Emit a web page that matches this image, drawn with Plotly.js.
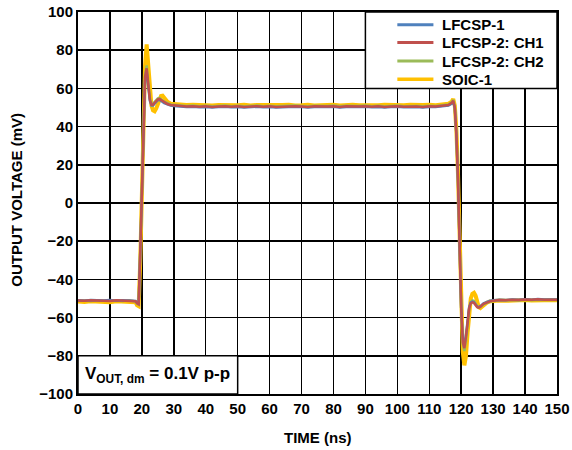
<!DOCTYPE html>
<html>
<head>
<meta charset="utf-8">
<script src="https://cdn.plot.ly/plotly-3.0.1.min.js"></script>
<style>html,body{margin:0;padding:0;background:#fff;}#chart{width:572px;height:450px;}</style>
</head>
<body>
<div id="chart"></div>
<script>
// time axis (ns)
var timeNs = [
  0,2,4,6,8,10,12,14,16,18,
  18.5,19,19.5,20,20.5,21,21.5,22,22.5,23,23.5,24,24.5,25,25.5,26,26.5,27,28,29,30,
  32,34,36,38,40,42,44,46,48,50,
  52,54,56,58,60,62,64,66,68,70,
  72,74,76,78,80,82,84,86,88,90,
  92,94,96,98,100,102,104,106,108,110,
  112,114,116,
  117,117.5,118,118.5,119,119.5,120,120.5,121,121.5,122,122.5,123,123.5,124,124.5,125,125.5,126,127,128,129,130,
  132,134,136,138,140,142,144,146,148,150
];

// output voltage (mV)
var lfcsp1 = [
  -50.9,-51.2,-50.8,-51.0,-51.1,-50.8,-51.2,-50.9,-51.0,-51.3,
  -52.2,-52.6,-26,7,44,64,68.5,61,53.5,51,51,52,53,53.8,54,53.6,52.9,52.3,51.5,51.0,50.8,
  50.5,50.2,50.4,50.1,50.3,50.0,50.2,50.4,50.1,50.3,
  50.0,50.2,50.4,50.1,50.3,50.0,50.2,50.1,50.4,50.2,
  50.0,50.3,50.1,50.2,50.4,50.0,50.3,50.1,50.2,50.4,
  50.1,50.3,50.0,50.2,50.4,50.1,50.3,50.2,50.0,50.3,
  50.2,50.5,51.0,
  52.0,53.0,49.5,35,11,-23,-55,-71,-74,-69,-60,-54.5,-52,-51.6,-52,-53.2,-54.2,-54.5,-54,-52.5,-51.8,-51.2,-50.9,
  -50.6,-50.8,-50.5,-50.7,-50.4,-50.6,-50.3,-50.5,-50.4,-50.5
];
var lfcsp2ch1 = [
  -51.0,-51.2,-50.9,-51.1,-51.0,-51.3,-50.9,-51.1,-51.0,-51.4,
  -52.5,-53,-25,8,45,66,70.5,62,54,51.5,51.5,52.5,53.5,54.3,54.5,54,53.2,52.6,51.8,51.3,51.1,
  50.8,50.5,50.7,50.4,50.6,50.3,50.5,50.7,50.4,50.6,
  50.3,50.5,50.7,50.4,50.6,50.3,50.5,50.4,50.7,50.5,
  50.3,50.6,50.4,50.5,50.7,50.3,50.6,50.4,50.5,50.7,
  50.4,50.6,50.3,50.5,50.7,50.4,50.6,50.5,50.3,50.6,
  50.5,50.8,51.3,
  52.5,53.5,50,36,12,-22,-55,-73,-76,-70,-61,-55,-52.5,-52,-52.3,-53.5,-54.5,-54.8,-54.3,-52.8,-52,-51.5,-51.2,
  -50.8,-50.9,-50.6,-50.8,-50.5,-50.7,-50.4,-50.6,-50.5,-50.6
];
var lfcsp2ch2 = [
  -51.2,-51.0,-51.3,-50.9,-51.2,-51.0,-51.1,-51.3,-50.9,-51.5,
  -52.8,-53.2,-27,6,44,67,72,64,55,52,52,53,54,54.8,55,54.5,53.6,53,52.2,51.6,51.4,
  51.0,50.8,51.0,50.7,50.9,50.6,50.8,51.0,50.7,50.9,
  50.6,50.8,51.0,50.7,50.9,50.6,50.8,50.7,51.0,50.8,
  50.6,50.9,50.7,50.8,51.0,50.6,50.9,50.7,50.8,51.0,
  50.7,50.9,50.6,50.8,51.0,50.7,50.9,50.8,50.6,50.9,
  50.8,51.1,51.6,
  52.8,54.0,50.5,37,13,-21,-56,-74,-77.5,-72,-62,-55.5,-52,-51,-51.2,-52.8,-54.3,-54.8,-54.4,-53,-52.2,-51.6,-51.3,
  -51.0,-51.1,-50.8,-51.0,-50.7,-50.9,-50.6,-50.8,-50.7,-50.8
];
var soic1 = [
  -51.5,-51.8,-51.4,-51.7,-51.6,-51.9,-51.5,-51.7,-51.6,-52.0,
  -53.5,-54,-30,5,42,72,83,74,60,51,48.5,48,49.5,52,54.5,56,56.2,55.2,53,52,51.8,
  51.6,51.3,51.5,51.2,51.4,51.0,51.3,51.1,51.4,51.2,
  51.5,51.0,51.3,51.2,51.5,51.1,51.3,51.4,51.0,51.2,
  51.5,51.1,51.3,51.2,51.4,51.0,51.3,51.5,51.2,51.1,
  51.4,51.2,51.5,51.3,51.0,51.2,51.4,51.1,51.3,51.5,
  51.2,51.6,52.0,
  53,54.5,51,38,15,-20,-55,-78,-85,-80,-68,-57,-50,-47.5,-47,-48.5,-52,-54.5,-55,-53.5,-52.2,-51.5,-51.3,
  -51.0,-51.2,-50.9,-51.1,-50.8,-51.0,-50.7,-50.9,-50.8,-50.9
];

var seriesNames = ["LFCSP-1", "LFCSP-2: CH1", "LFCSP-2: CH2", "SOIC-1"];
var seriesColors = ["#4F81BD", "#C0504D", "#9BBB59", "#FFC000"];

var FONT = "Arial, 'Liberation Sans', Helvetica, sans-serif";
var BOLD15 = {family: FONT, size: 15, color: "#000", weight: "bold"};

function tr(y, idx, width) {
  return {
    x: timeNs, y: y, type: "scatter", mode: "lines",
    name: seriesNames[idx], showlegend: false,
    line: {color: seriesColors[idx], width: width}
  };
}

var data = [
  tr(soic1, 3, 4),
  tr(lfcsp2ch2, 2, 2.5),
  tr(lfcsp1, 0, 2.5),
  tr(lfcsp2ch1, 1, 2.5)
];

var axisCommon = {
  showgrid: true, gridcolor: "#000", gridwidth: 1.5,
  showline: true, linecolor: "#000", linewidth: 2, mirror: true,
  zeroline: false, ticks: "", fixedrange: true,
  tickfont: BOLD15
};

// legend box (drawn inside the plot, aligned with gridlines)
var shapes = [
  {type: "rect", xref: "x", yref: "y", x0: 90, x1: 150, y0: 60, y1: 100,
   fillcolor: "#fff", line: {color: "#000", width: 1.5}, layer: "above"},
  {type: "rect", xref: "x", yref: "y", x0: 0, x1: 50, y0: -100, y1: -80,
   fillcolor: "#fff", line: {color: "#000", width: 1.5}, layer: "above"}
];
var annotations = [
  {xref: "x", yref: "y", x: 1.5, y: -90, xanchor: "left", yanchor: "middle",
   showarrow: false, text: "V<sub>OUT, dm</sub> = 0.1V p-p",
   font: {family: FONT, size: 17, color: "#000", weight: "bold"}},
  {xref: "paper", yref: "paper", x: -0.128, y: 0.508, xanchor: "center", yanchor: "middle",
   showarrow: false, textangle: -90, text: "OUTPUT VOLTAGE (mV)", font: BOLD15},
  {xref: "paper", yref: "paper", x: 0.5, y: -0.113, xanchor: "center", yanchor: "middle",
   showarrow: false, text: "TIME (ns)", font: BOLD15}
];
var legendY = [93.3, 84.0, 74.3, 64.8];
var legendOrder = [0, 1, 2, 3];
legendOrder.forEach(function (i) {
  shapes.push({type: "line", xref: "x", yref: "y", x0: 100, x1: 111.3,
    y0: legendY[i], y1: legendY[i], layer: "above",
    line: {color: seriesColors[i], width: i === 3 ? 3.5 : 3}});
  annotations.push({xref: "x", yref: "y", x: 113.4, y: legendY[i],
    xanchor: "left", yanchor: "middle", showarrow: false,
    text: seriesNames[i], font: BOLD15});
});

var layout = {
  width: 572, height: 450,
  margin: {l: 78, r: 15, t: 12, b: 56},
  paper_bgcolor: "#fff", plot_bgcolor: "#fff",
  font: {family: FONT, color: "#000"},
  showlegend: false,
  xaxis: Object.assign({}, axisCommon, {range: [0, 150], tick0: 0, dtick: 10}),
  yaxis: Object.assign({}, axisCommon, {range: [-100, 100], tick0: 0, dtick: 20}),
  shapes: shapes,
  annotations: annotations
};

Plotly.newPlot("chart", data, layout, {displayModeBar: false, staticPlot: true});
</script>
</body>
</html>
